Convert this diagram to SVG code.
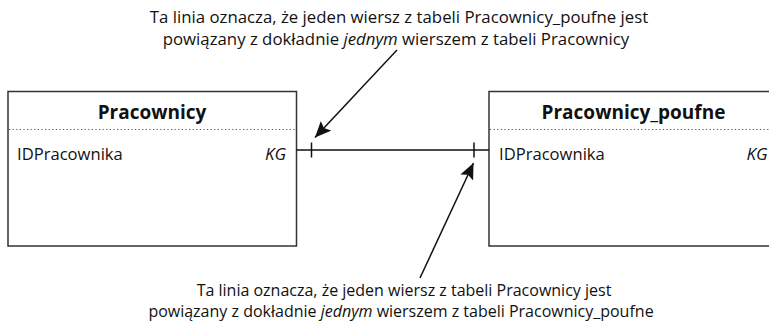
<svg xmlns="http://www.w3.org/2000/svg" width="769" height="321" viewBox="0 0 769 321">
<style>
.box{fill:#fff;stroke:#333;stroke-width:1.5}
.sep{stroke:#555;stroke-width:1.2;stroke-dasharray:1.2 2.4}
.t{font-family:"Open Sans","Liberation Sans",sans-serif;font-size:16.6px;fill:#111}
.title{font-family:"Open Sans","Liberation Sans",sans-serif;font-size:19px;font-weight:bold;fill:#111}
.kg{font-family:"Open Sans","Liberation Sans",sans-serif;font-size:17px;font-style:italic;fill:#111}
.note{font-family:"Open Sans","Liberation Sans",sans-serif;font-size:16.8px;fill:#111}
.note2{font-family:"Open Sans","Liberation Sans",sans-serif;font-size:16px;fill:#111}
.ln{stroke:#111;stroke-width:1.5;fill:none}
</style>
<defs>
<marker id="ah" viewBox="0 0 16 14" refX="16" refY="7" markerWidth="16" markerHeight="14" markerUnits="userSpaceOnUse" orient="auto">
<path d="M0,0 L16,7 L0,14 L3,7 Z" fill="#111"/>
</marker>
</defs>
<g id="pracownicy">
<rect class="box" x="8" y="91.5" width="288.5" height="154.5"/>
<line class="sep" x1="9" y1="129.5" x2="296" y2="129.5"/>
<text class="title" x="152" y="119" text-anchor="middle">Pracownicy</text>
<text class="t" x="17" y="160">IDPracownika</text>
<text class="kg" x="286" y="160" text-anchor="end">KG</text>
</g>
<g id="pracownicy_poufne">
<rect class="box" x="489" y="91.5" width="288.5" height="154.5"/>
<line class="sep" x1="490" y1="129.5" x2="777" y2="129.5"/>
<text class="title" x="633.5" y="119" text-anchor="middle">Pracownicy_poufne</text>
<text class="t" x="499" y="160">IDPracownika</text>
<text class="kg" x="767.5" y="160" text-anchor="end">KG</text>
</g>
<g id="connectors">
<line class="ln" x1="296.5" y1="150" x2="489" y2="150"/>
<line class="ln" x1="311.5" y1="142.5" x2="311.5" y2="157.5"/>
<line class="ln" x1="474" y1="142.5" x2="474" y2="157.5"/>
<line class="ln" x1="397" y1="50" x2="315" y2="137.5" marker-end="url(#ah)"/>
<line class="ln" x1="420" y1="278" x2="473.5" y2="163" marker-end="url(#ah)"/>
</g>
<g id="notes">
<text class="note" x="399" y="23" text-anchor="middle">Ta linia oznacza, że jeden wiersz z tabeli Pracownicy_poufne jest</text>
<text class="note" x="396" y="45" text-anchor="middle">powiązany z dokładnie <tspan font-style="italic">jednym</tspan> wierszem z tabeli Pracownicy</text>
<text class="note2" x="404" y="296" text-anchor="middle">Ta linia oznacza, że jeden wiersz z tabeli Pracownicy jest</text>
<text class="note2" x="401" y="316.5" text-anchor="middle">powiązany z dokładnie <tspan font-style="italic">jednym</tspan> wierszem z tabeli Pracownicy_poufne</text>
</g>
</svg>
